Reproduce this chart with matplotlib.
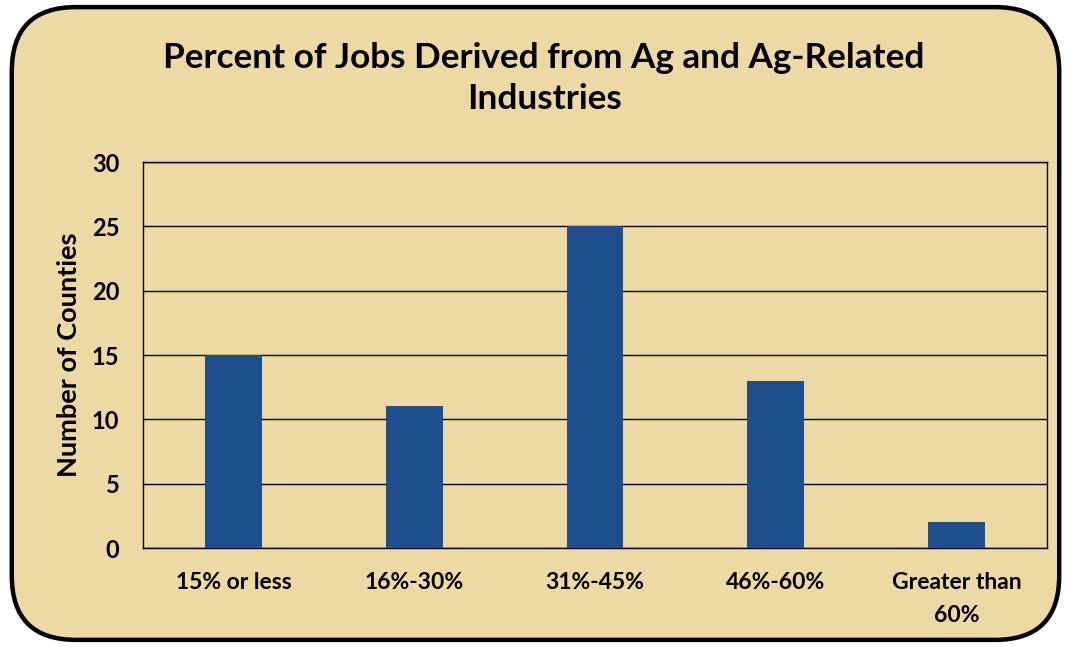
import matplotlib.pyplot as plt
from matplotlib.patches import FancyBboxPatch

categories = ['15% or less', '16%-30%', '31%-45%', '46%-60%', 'Greater than\n60%']
counties = [15, 11, 25, 13, 2]
yticks = [0, 5, 10, 15, 20, 25, 30]

plt.rcParams['font.family'] = ['Lato', 'DejaVu Sans']

fig = plt.figure(figsize=(10.71, 6.47), dpi=100)
fig.patch.set_facecolor('white')

# rounded papyrus-coloured frame
frame = FancyBboxPatch((0.011, 0.011), 0.978, 0.978,
                       boxstyle='round,pad=0,rounding_size=0.06',
                       transform=fig.transFigure, facecolor='#ecd9a4',
                       edgecolor='black', linewidth=3.2, mutation_aspect=1071 / 647,
                       zorder=-10)
fig.patches.append(frame)

ax = fig.add_axes([0.1335, 0.153, 0.8441, 0.5966])
ax.set_facecolor('none')

x = range(len(categories))
ax.bar(x, counties, width=0.315, color='#1f4e8c', zorder=3)

ax.set_ylim(0, 30)
ax.set_xlim(-0.5, 4.5)
ax.set_yticks(yticks)
ax.set_xticks(list(x))
ax.set_xticklabels(categories, fontsize=16.5, fontweight='bold', linespacing=1.7)
for lab in ax.get_yticklabels():
    lab.set_fontsize(17)
    lab.set_fontweight('bold')
ax.tick_params(axis='x', length=0, pad=17)
ax.tick_params(axis='y', length=0, pad=17)
ax.yaxis.grid(True, color='black', linewidth=1)
ax.set_axisbelow(True)
for s in ax.spines.values():
    s.set_color('black')
    s.set_linewidth(1)

ax.set_ylabel('Number of Counties', fontsize=19.5, fontweight='bold', labelpad=8)

fig.text(0.508, 0.879, 'Percent of Jobs Derived from Ag and Ag-Related\nIndustries',
         ha='center', va='center', fontsize=25.3, fontweight='bold', linespacing=1.35)

fig.savefig('out.png', dpi=100)
